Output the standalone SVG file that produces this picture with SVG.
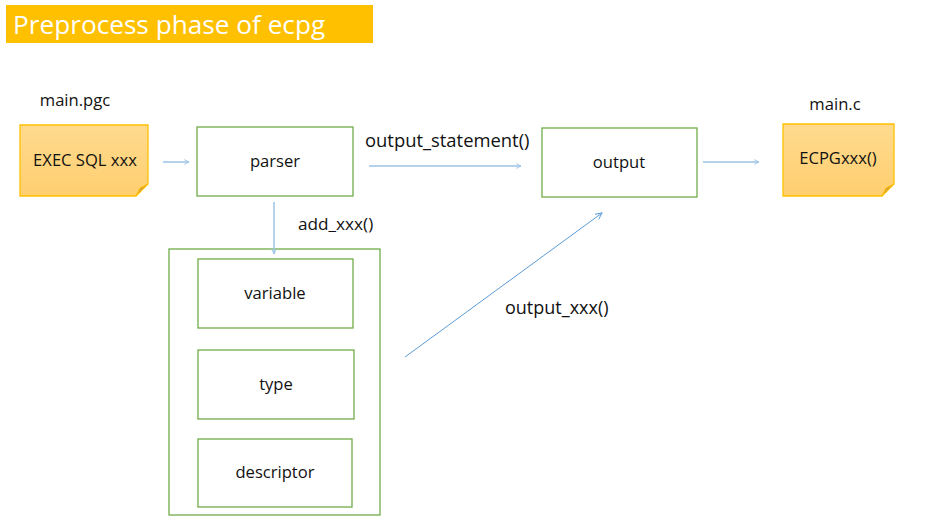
<svg xmlns="http://www.w3.org/2000/svg" width="929" height="523" viewBox="0 0 929 523">
<style>
text{font-family:"Open Sans","Liberation Sans",sans-serif;fill:#111;font-size:16.6px}
.c{text-anchor:middle}
.box{fill:#fff;stroke:#70AD47;stroke-width:1.3}
.note{fill:url(#ng);stroke:#FFC000;stroke-width:1.3}
.fold{fill:#D6A33E;stroke:#FFC000;stroke-width:1}
.ar{stroke:#9DC3E6;stroke-width:1.5;fill:none;marker-end:url(#ah)}
.ar2{stroke:#5B9BD5;stroke-width:1;fill:none;marker-end:url(#ah2)}
</style>
<defs>
<linearGradient id="ng" x1="0" y1="0" x2="0" y2="1"><stop offset="0" stop-color="#FFDA8E"/><stop offset="1" stop-color="#FFCF70"/></linearGradient>
<marker id="ah" viewBox="0 0 10 10" refX="9" refY="5" markerWidth="6" markerHeight="6" orient="auto" markerUnits="userSpaceOnUse"><path d="M1,1 L9,5 L1,9" fill="none" stroke="#9DC3E6" stroke-width="1.5"/></marker>
<marker id="ah2" viewBox="0 0 10 10" refX="9" refY="5" markerWidth="8" markerHeight="8" orient="auto" markerUnits="userSpaceOnUse"><path d="M1,1 L9,5 L1,9" fill="none" stroke="#5B9BD5" stroke-width="1.2"/></marker>
</defs>
<rect width="929" height="523" fill="#fff"/>
<g id="title">
<rect x="6" y="5" width="367" height="38" fill="#FFC000"/>
<text x="13" y="34" style="font-size:26.2px;fill:#fff">Preprocess phase of ecpg</text>
</g>
<g id="main-pgc">
<text x="75" y="106" class="c">main.pgc</text>
<path class="note" d="M20,125 H148 V184 L136,196 H20 Z"/>
<path class="fold" d="M136,196 L140,188 L148,184 Z"/>
<text x="85" y="166" class="c">EXEC SQL xxx</text>
</g>
<g id="parser">
<rect class="box" x="197" y="127" width="156" height="69"/>
<text x="275" y="167" class="c">parser</text>
</g>
<g id="output">
<rect class="box" x="542" y="128" width="155" height="69"/>
<text x="619" y="168" class="c">output</text>
</g>
<g id="main-c">
<text x="835" y="110" class="c">main.c</text>
<path class="note" d="M783,124 H894 V184 L882,196 H783 Z"/>
<path class="fold" d="M882,196 L886,188 L894,184 Z"/>
<text x="838" y="164" class="c">ECPGxxx()</text>
</g>
<g id="container">
<rect class="box" x="169" y="249" width="211" height="266"/>
</g>
<g id="variable">
<rect class="box" x="198" y="259" width="155" height="69"/>
<text x="275" y="299" class="c">variable</text>
</g>
<g id="type">
<rect class="box" x="198" y="350" width="156" height="69"/>
<text x="276" y="390" class="c">type</text>
</g>
<g id="descriptor">
<rect class="box" x="198" y="439" width="154" height="68"/>
<text x="275" y="478" class="c">descriptor</text>
</g>
<g id="connectors">
<line class="ar" x1="163" y1="162" x2="189" y2="162"/>
<line class="ar" x1="369" y1="166" x2="521" y2="166"/>
<line class="ar" x1="703" y1="162" x2="759" y2="162"/>
<line class="ar" x1="274" y1="202" x2="274" y2="254"/>
<line class="ar2" x1="405" y1="357" x2="602" y2="213"/>
<text x="365" y="147" style="font-size:18.4px">output_statement()</text>
<text x="298" y="230" style="font-size:17.2px">add_xxx()</text>
<text x="505" y="314" style="font-size:18px">output_xxx()</text>
</g>
</svg>
